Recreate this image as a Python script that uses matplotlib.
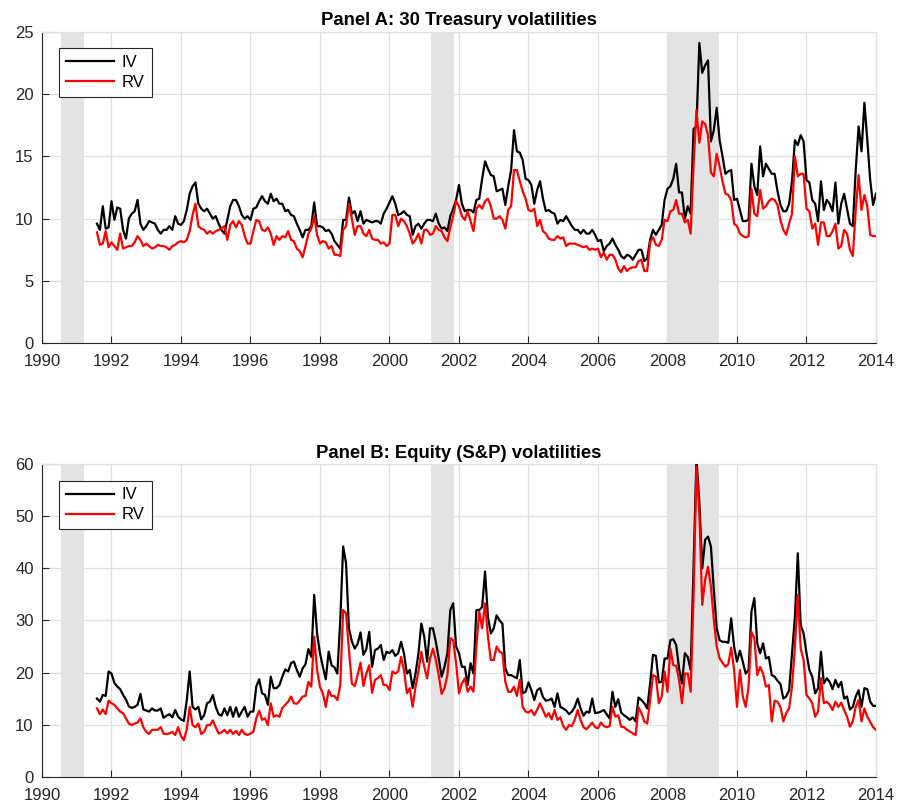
import numpy as np
import matplotlib
matplotlib.use('Agg')
import matplotlib.pyplot as plt

plt.rcParams['font.family'] = ['Liberation Sans', 'DejaVu Sans']

# monthly observations, Aug 1991 .. Jan 2014
start_year = 1991 + 7 / 12
n_months = 270
dates = start_year + np.arange(n_months) / 12

# NBER recessions (shaded)
recessions = [(1990.55, 1991.2), (2001.2, 2001.85), (2008.0, 2009.47)]

# Panel A: 30y Treasury, implied vol
tsy_iv = [
    9.6, 9.1, 11.0, 9.2, 9.3,
    11.4, 9.9, 10.9, 10.8, 9.1, 8.4, 10.0, 10.4, 10.6, 11.5, 9.6, 9.1,
    9.4, 9.8, 9.7, 9.6, 9.1, 8.8, 9.1, 9.1, 9.4, 9.1, 10.2, 9.6,
    9.5, 9.8, 10.7, 12.0, 12.6, 12.9, 11.2, 10.8, 10.6, 10.8, 10.4, 10.0,
    10.2, 9.6, 9.1, 8.8, 9.9, 11.0, 11.5, 11.5, 11.0, 10.3, 10.0, 10.2,
    9.9, 10.8, 10.9, 11.4, 11.8, 11.4, 11.2, 12.0, 11.4, 11.6, 11.2, 11.2,
    10.6, 10.7, 10.3, 10.2, 9.6, 9.1, 8.5, 9.1, 9.1, 9.4, 11.3, 9.4,
    9.4, 9.3, 9.0, 9.1, 8.8, 8.2, 7.9, 7.6, 9.9, 9.9, 11.7, 10.4,
    10.6, 9.8, 10.6, 9.6, 9.9, 9.8, 9.7, 9.8, 9.8, 9.6, 10.4, 10.8,
    11.3, 11.8, 11.2, 10.3, 10.4, 10.6, 10.3, 10.2, 8.7, 9.4, 9.6, 9.2,
    9.6, 9.9, 9.9, 9.8, 10.4, 9.6, 9.2, 9.3, 9.0, 10.2, 10.8, 11.5,
    12.7, 11.2, 10.6, 10.7, 10.7, 10.5, 11.5, 11.6, 13.2, 14.6, 14.0, 13.5,
    13.4, 12.2, 12.3, 12.4, 11.1, 12.6, 13.9, 17.1, 15.4, 15.3, 14.7, 13.2,
    13.1, 12.7, 11.2, 12.3, 13.0, 11.6, 10.6, 10.7, 10.5, 10.4, 9.6, 9.9,
    9.8, 10.2, 9.8, 9.4, 9.1, 9.1, 8.8, 9.1, 8.8, 8.8, 9.1, 8.7,
    8.2, 8.3, 7.4, 7.8, 8.0, 8.4, 7.9, 7.5, 7.0, 6.8, 7.1, 7.0,
    6.7, 7.1, 7.5, 7.5, 6.6, 6.8, 8.3, 9.1, 8.7, 9.1, 9.5, 11.5,
    12.4, 12.6, 13.2, 14.4, 12.1, 12.1, 10.0, 11.0, 10.4, 17.2, 17.4, 24.1,
    21.7, 22.3, 22.7, 16.2, 17.1, 18.9, 16.3, 15.0, 13.6, 13.8, 13.9, 11.5,
    11.6, 10.7, 9.8, 9.8, 9.9, 14.4, 12.6, 11.9, 15.8, 13.4, 14.4, 14.0,
    13.6, 13.6, 12.2, 11.1, 10.6, 10.6, 11.2, 13.0, 16.3, 15.9, 16.7, 16.2,
    13.1, 12.9, 11.5, 11.2, 9.8, 13.0, 10.7, 11.5, 11.2, 10.6, 12.9, 9.6,
    11.2, 12.0, 10.8, 9.6, 9.4, 13.9, 17.4, 15.4, 19.3, 16.3, 13.1, 11.1,
    12.0,
]

# Panel A: 30y Treasury, realized vol
tsy_rv = [
    8.9, 7.9, 8.0, 9.0, 7.7,
    8.1, 7.8, 7.5, 8.8, 7.6, 7.7, 7.8, 7.8, 8.1, 8.6, 8.3, 7.8,
    8.0, 7.8, 7.6, 7.7, 7.9, 7.8, 7.8, 7.7, 7.5, 7.8, 7.9, 8.1,
    8.2, 8.1, 8.3, 9.0, 10.3, 11.2, 9.4, 9.2, 9.1, 8.8, 9.0, 8.8,
    9.0, 9.1, 9.2, 9.4, 8.3, 9.5, 9.8, 9.3, 9.8, 9.5, 8.6, 8.0,
    8.0, 9.0, 9.9, 9.8, 9.1, 9.0, 9.3, 8.8, 7.9, 8.6, 8.3, 8.6,
    8.5, 9.0, 8.3, 8.2, 7.6, 7.4, 6.9, 7.8, 8.8, 9.2, 10.2, 8.7,
    8.0, 8.2, 8.1, 7.6, 7.8, 7.1, 7.1, 7.0, 9.1, 9.4, 11.2, 10.0,
    8.7, 9.4, 9.4, 8.8, 8.6, 9.1, 8.4, 8.3, 8.3, 8.0, 8.1, 7.8,
    8.0, 10.3, 10.3, 9.4, 10.0, 9.8, 9.4, 8.8, 8.0, 8.3, 8.8, 8.0,
    9.1, 9.1, 8.7, 8.8, 9.4, 9.1, 9.0, 8.5, 8.2, 9.3, 10.2, 11.4,
    11.0, 10.2, 9.9, 10.6, 9.8, 9.0, 10.8, 11.1, 10.8, 11.4, 11.6, 11.0,
    10.0, 10.0, 10.2, 9.9, 9.2, 10.7, 11.0, 13.9, 13.9, 13.0, 12.2, 11.6,
    10.7, 10.6, 10.8, 9.4, 9.9, 9.0, 8.8, 8.4, 8.3, 8.3, 8.6, 8.4,
    8.5, 7.8, 8.0, 8.0, 8.0, 7.9, 7.8, 7.7, 7.8, 7.5, 7.6, 7.5,
    7.6, 6.9, 7.3, 6.7, 7.1, 7.1, 6.7, 6.0, 5.7, 6.2, 5.8, 6.0,
    6.1, 6.1, 6.6, 6.7, 5.8, 5.8, 8.1, 8.5, 7.9, 7.8, 8.3, 9.9,
    9.8, 10.6, 10.7, 11.5, 10.4, 10.4, 9.7, 9.9, 8.8, 14.3, 18.7, 16.1,
    17.8, 17.6, 16.7, 13.7, 13.4, 15.2, 14.2, 13.0, 12.0, 11.9, 11.5, 9.6,
    9.4, 8.8, 8.6, 8.5, 8.6, 12.4, 10.4, 10.2, 12.3, 10.8, 11.0, 11.4,
    11.6, 11.5, 11.1, 9.9, 9.1, 8.7, 9.6, 10.4, 15.0, 13.4, 13.6, 13.6,
    10.8, 10.6, 9.2, 9.6, 7.9, 9.7, 9.7, 8.6, 8.6, 9.0, 9.6, 7.6,
    7.8, 9.1, 8.8, 7.5, 7.0, 10.7, 13.5, 10.7, 11.9, 11.0, 8.7, 8.6,
    8.6,
]

# Panel B: S&P 500, implied vol
spx_iv = [
    15.0, 14.4, 15.7, 15.5, 20.2,
    19.8, 18.0, 17.3, 16.8, 15.7, 14.8, 13.5, 13.2, 13.4, 13.8, 15.9, 12.9,
    12.7, 12.5, 13.1, 12.7, 12.7, 13.1, 11.3, 11.7, 12.0, 11.4, 12.8, 11.5,
    11.0, 10.7, 14.7, 20.2, 13.4, 12.9, 13.4, 11.0, 11.8, 14.1, 14.4, 15.7,
    13.4, 12.0, 11.7, 13.1, 11.8, 13.4, 11.5, 13.3, 11.5, 12.5, 13.4, 11.5,
    12.5, 12.5, 17.3, 18.7, 16.0, 15.7, 13.8, 19.2, 17.0, 17.0, 17.6, 19.2,
    20.6, 20.2, 21.8, 22.1, 20.5, 19.2, 20.8, 21.6, 24.5, 23.0, 34.9, 27.5,
    23.7, 21.1, 18.7, 24.0, 21.4, 21.0, 19.8, 30.0, 44.2, 41.0, 28.5, 26.0,
    24.6, 25.5, 27.7, 23.4, 24.5, 27.8, 21.1, 24.3, 24.6, 25.3, 22.4, 24.0,
    23.7, 24.3, 23.2, 23.7, 25.9, 23.7, 19.8, 20.5, 17.0, 19.8, 23.7, 29.4,
    26.9, 22.1, 28.5, 28.5, 25.9, 22.7, 19.2, 21.1, 23.7, 32.0, 33.3, 25.0,
    23.7, 21.1, 21.1, 17.6, 21.8, 19.8, 32.0, 32.0, 32.6, 39.4, 30.7, 27.5,
    28.5, 31.0, 30.0, 29.4, 20.8, 19.5, 19.5, 19.2, 18.9, 22.4, 16.0, 16.3,
    18.1, 16.6, 14.7, 16.6, 17.0, 15.3, 14.6, 14.7, 15.0, 13.4, 16.0, 13.4,
    13.1, 12.7, 12.0, 12.5, 13.4, 15.0, 13.1, 11.7, 12.5, 12.3, 15.0, 12.2,
    12.3, 12.5, 12.8, 12.0, 11.2, 16.3, 13.4, 14.9, 12.3, 11.8, 11.4, 10.9,
    11.4, 10.6, 15.2, 14.7, 14.1, 13.1, 17.9, 23.4, 23.2, 18.1, 18.2, 22.7,
    22.7, 26.2, 26.4, 25.3, 20.8, 17.9, 23.7, 23.0, 20.5, 40.3, 61.0, 52.8,
    40.0, 45.5, 46.1, 44.2, 35.9, 28.5, 26.2, 25.9, 25.9, 25.7, 30.4, 25.0,
    22.1, 24.2, 22.1, 19.8, 20.5, 31.7, 34.3, 25.6, 23.7, 25.6, 22.7, 23.0,
    19.5, 19.2, 18.4, 17.8, 15.0, 15.4, 16.6, 23.7, 30.7, 42.9, 29.1, 27.5,
    23.7, 20.5, 19.2, 16.0, 17.0, 24.0, 17.9, 18.9, 18.2, 16.8, 18.6, 17.2,
    18.2, 15.0, 15.4, 12.9, 13.4, 15.4, 16.6, 13.4, 17.0, 16.8, 14.4, 13.6,
    13.6,
]

# Panel B: S&P 500, realized vol
spx_rv = [
    13.1, 12.0, 12.9, 12.0, 14.6,
    14.1, 13.8, 13.1, 12.5, 12.2, 11.2, 10.2, 9.9, 10.2, 10.4, 11.2, 9.5,
    8.6, 8.2, 9.0, 9.0, 9.0, 9.5, 8.2, 8.2, 8.3, 8.6, 8.0, 9.5,
    7.8, 7.0, 9.1, 13.4, 9.9, 9.5, 10.2, 8.2, 8.6, 9.9, 9.9, 10.8,
    9.5, 8.3, 8.5, 9.0, 8.3, 9.0, 8.2, 8.8, 8.0, 9.0, 8.2, 8.0,
    8.3, 8.6, 11.2, 12.7, 10.9, 11.2, 9.9, 14.1, 11.5, 11.8, 11.5, 13.2,
    13.8, 14.4, 15.4, 14.1, 14.0, 14.6, 15.4, 15.5, 18.2, 17.3, 26.9, 20.5,
    17.2, 16.0, 13.4, 16.6, 15.5, 15.5, 14.7, 17.6, 32.0, 31.4, 24.3, 17.9,
    17.4, 19.5, 21.9, 17.4, 19.8, 21.4, 16.1, 18.6, 18.9, 19.5, 17.6, 17.6,
    16.6, 20.2, 19.8, 20.2, 23.0, 20.5, 16.0, 17.0, 13.4, 17.3, 20.2, 24.0,
    21.1, 18.9, 22.7, 24.6, 22.4, 19.5, 15.9, 17.0, 19.5, 26.6, 26.2, 21.8,
    16.0, 17.9, 18.9, 16.3, 17.3, 16.3, 25.0, 31.7, 28.5, 33.3, 26.9, 22.4,
    22.4, 25.0, 24.0, 23.7, 18.2, 16.3, 16.3, 17.3, 15.5, 18.6, 13.4, 12.5,
    12.3, 12.8, 11.8, 12.9, 14.1, 12.8, 11.5, 12.2, 11.0, 12.8, 10.9, 11.4,
    9.7, 9.0, 9.9, 9.7, 11.0, 12.8, 10.9, 9.5, 9.1, 9.7, 10.4, 9.5,
    9.3, 10.4, 9.7, 9.5, 9.7, 13.4, 11.5, 11.8, 9.6, 9.5, 9.0, 8.7,
    8.3, 8.0, 13.3, 12.2, 10.6, 10.2, 14.7, 19.5, 19.2, 14.1, 15.4, 20.2,
    16.3, 24.6, 21.4, 21.3, 18.6, 14.1, 19.8, 19.8, 16.3, 34.6, 59.5, 50.6,
    33.0, 37.8, 40.3, 36.5, 30.1, 25.0, 22.7, 21.9, 21.1, 21.6, 24.8, 20.5,
    13.4, 20.5, 15.4, 13.4, 17.3, 27.8, 26.6, 19.5, 21.1, 19.8, 17.3, 17.6,
    10.6, 14.6, 14.4, 13.4, 10.6, 12.2, 13.1, 17.3, 25.0, 34.9, 24.6, 22.4,
    15.7, 15.0, 14.1, 11.5, 12.5, 18.9, 14.1, 14.4, 13.8, 12.8, 14.4, 13.4,
    14.2, 12.8, 11.5, 9.6, 10.6, 13.4, 14.7, 10.6, 13.1, 11.5, 10.5, 9.5,
    9.0,
]

axis_color = '#262626'
grid_color = '#e0e0e0'


def draw_panel(ax, iv, rv, title, ymax, ystep):
    # recession bars
    for a, b in recessions:
        ax.axvspan(a, b, color='#e3e3e3', lw=0, zorder=1)
    ax.plot(dates, iv, color='black', lw=1.6, label='IV', zorder=3)
    ax.plot(dates, rv, color='red', lw=1.6, label='RV', zorder=3)

    ax.set_xlim(1990, 2014)
    ax.set_ylim(0, ymax)
    ax.set_xticks(np.arange(1990, 2015, 2))
    ax.set_yticks(np.arange(0, ymax + 1, ystep))

    ax.set_axisbelow(True)
    ax.grid(True, color=grid_color, lw=0.9)
    for side in ['top', 'right']:
        ax.spines[side].set_color(grid_color)
        ax.spines[side].set_linewidth(0.9)
    for side in ['left', 'bottom']:
        ax.spines[side].set_color(axis_color)
        ax.spines[side].set_linewidth(0.8)
    ax.tick_params(direction='in', length=5, width=0.8, color=axis_color,
                   labelcolor=axis_color, labelsize=12, top=False, right=False)
    ax.tick_params(axis='x', pad=8)
    ax.tick_params(axis='y', pad=6)

    ax.set_title(title, fontsize=13.3, fontweight='bold', pad=4.8)
    leg = ax.legend(loc='upper left', bbox_to_anchor=(0.021, 0.947), borderaxespad=0,
                    fontsize=12, handlelength=2.9, handletextpad=0.45, labelspacing=0.3,
                    borderpad=0.4, fancybox=False, framealpha=1, edgecolor=axis_color)
    leg.get_frame().set_linewidth(0.8)


fig = plt.figure(figsize=(8.99, 8.07), dpi=100)
ax1 = fig.add_axes([0.0467, 0.5746, 0.9277, 0.3861])
ax2 = fig.add_axes([0.0467, 0.0376, 0.9277, 0.3871])

draw_panel(ax1, tsy_iv, tsy_rv, 'Panel A: 30 Treasury volatilities', 25, 5)
draw_panel(ax2, spx_iv, spx_rv, 'Panel B: Equity (S&P) volatilities', 60, 10)

fig.savefig('out.png', dpi=100)
